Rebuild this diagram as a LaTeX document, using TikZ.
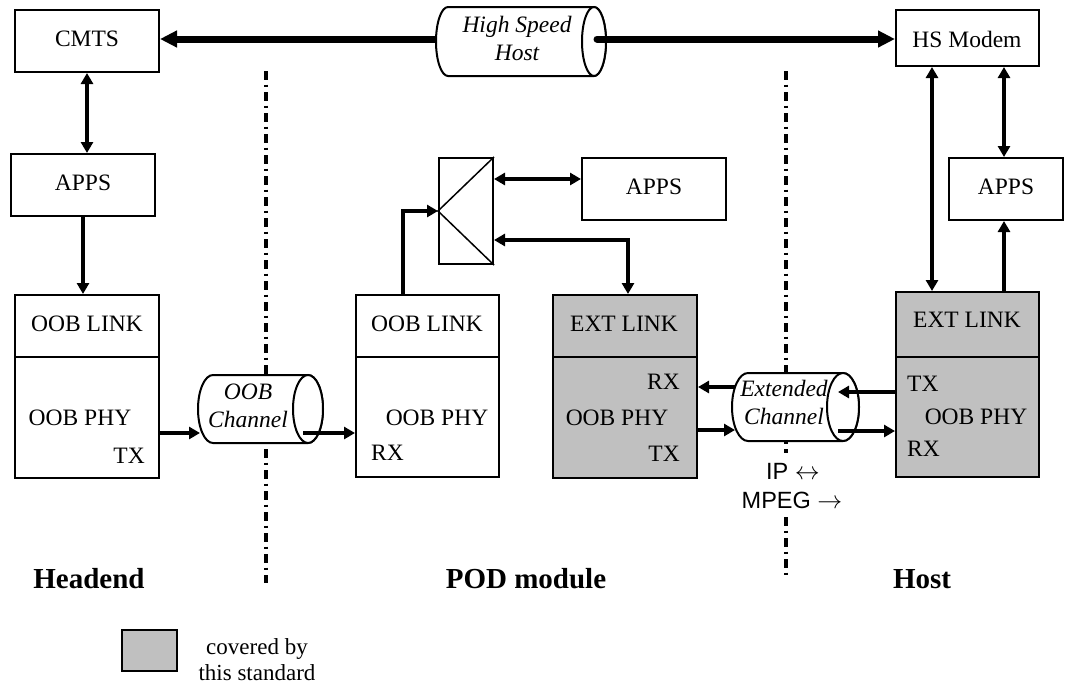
\documentclass[tikz,border=0pt]{standalone}
\usepackage{fontspec}
\setmainfont{Liberation Serif}
\setsansfont{Liberation Sans}
\usetikzlibrary{arrows.meta}
\definecolor{stdgray}{HTML}{C0C0C0}
\newcommand\regfont{\fontsize{23.5}{26}\selectfont}
\newcommand\bigbold{\fontsize{29}{32}\selectfont\bfseries}
\newcommand\mycyl[5]{%
  \draw[cyl] (#1,{#3-#5}) -- (#2,{#3-#5}) arc (270:450:#4 and #5) -- (#1,{#3+#5}) arc (90:270:#4 and #5) -- cycle;
  \draw[cyl] (#2,#3) ellipse (#4 and #5);}
\begin{document}
\begin{tikzpicture}[x=1pt,y=-1pt,
  box/.style={draw, line width=2pt, inner sep=0pt, fill=white},
  gbox/.style={box, fill=stdgray},
  txt/.style={inner sep=0pt, anchor=base, font=\regfont},
  itx/.style={txt, font=\regfont\itshape},
  arr/.style={line width=3.5pt, -{Triangle[length=11pt,width=12pt]}},
  darr/.style={line width=3.5pt, {Triangle[length=11pt,width=12pt]}-{Triangle[length=11pt,width=12pt]}},
  thk/.style={line width=7pt, -{Triangle[length=17pt,width=16pt]}},
  divider/.style={line width=3.3pt, dash pattern=on 8.5pt off 5pt on 2.5pt off 5pt},
  cyl/.style={line width=2pt, fill=white}]
\useasboundingbox (0,0) rectangle (1066,689);

% dividers
\draw[divider] (266,71) -- (266,583);
\draw[divider] (786,71) -- (786,453);
\draw[divider] (786,517) -- (786,578);

% boxes
\node[box, minimum width=144pt, minimum height=62pt] (cmts) at (87,41) {};
\node[box, minimum width=144pt, minimum height=62pt] (apps1) at (83,185) {};
\node[box, minimum width=143pt, minimum height=56pt] (hsm) at (967.5,38) {};
\node[box, minimum width=144pt, minimum height=62pt] (apps2) at (654,189) {};
\node[box, minimum width=114pt, minimum height=62pt] (apps3) at (1006,189) {};
\node[box, minimum width=54pt, minimum height=106pt] (spl) at (466,211) {};
\draw[line width=1.5pt] (spl.north east) -- (spl.west) -- (spl.south east);
\node[box, minimum width=144pt, minimum height=183pt] (oobL) at (87,386.5) {};
\node[box, minimum width=143pt, minimum height=182pt] (oobP) at (427.5,386) {};
\node[gbox, minimum width=144pt, minimum height=183pt] (extP) at (625,386.5) {};
\node[gbox, minimum width=143pt, minimum height=185pt] (extH) at (967.5,384.5) {};
\draw[line width=2pt] (oobL.west |- 0,357) -- (oobL.east |- 0,357);
\draw[line width=2pt] (oobP.west |- 0,357) -- (oobP.east |- 0,357);
\draw[line width=2pt] (extP.west |- 0,357) -- (extP.east |- 0,357);
\draw[line width=2pt] (extH.west |- 0,357) -- (extH.east |- 0,357);
\node[gbox, minimum width=55pt, minimum height=41pt] (leg) at (149.5,650.5) {};

% cylinders
\mycyl{448}{594}{41.5}{12}{34.5}
\mycyl{213}{308}{409}{15}{34}
\mycyl{748}{843}{407}{16}{34}
\coordinate (hsl) at (437,39);
\coordinate (hsr) at (597,39);
\coordinate (oobcl) at (200,433);
\coordinate (oobcr) at (303,433);
\coordinate (extcl1) at (735,387);
\coordinate (extcl2) at (735,430);
\coordinate (extcr1) at (838,392);
\coordinate (extcr2) at (838,431);

% connectors
\draw[thk] (hsl) -- (cmts.east |- hsl);
\draw[thk, line cap=round] (hsr) -- (hsm.west |- hsr);
\draw[darr] (cmts.south) -- (cmts.south |- apps1.north);
\draw[arr] (apps1.south) -- (apps1.south |- oobL.north);
\draw[arr] ([xshift=-24.5pt]oobP.north) |- (spl.west);
\draw[darr] (spl.east |- 0,179) -- (apps2.west |- 0,179);
\draw[darr] (spl.east |- 0,240) -| (extP.north -| 628,0);
\draw[darr] (hsm.south -| 932,0) -- (extH.north -| 932,0);
\draw[darr] (hsm.south -| 1004,0) -- (apps3.north -| 1004,0);
\draw[arr] (extH.north -| 1004,0) -- (apps3.south -| 1004,0);
\draw[arr] (oobL.east |- oobcl) -- (oobcl);
\draw[arr] (oobcr) -- (oobP.west |- oobcr);
\draw[arr] (extcl1) -- (extP.east |- extcl1);
\draw[arr] (extP.east |- extcl2) -- (extcl2);
\draw[arr] (extH.west |- extcr1) -- (extcr1);
\draw[arr] (extcr2) -- (extH.west |- extcr2);

% texts
\node[txt] (tcmts) at (87,46) {CMTS};
\node[itx] (ths1) at (517,32) {High Speed};
\node[itx] (ths2) at (517,60) {Host};
\node[txt] (thsm) at (967,47) {HS Modem};
\node[txt] (tap1) at (83,190) {APPS};
\node[txt] (tap2) at (654,194) {APPS};
\node[txt] (tap3) at (1006,194) {APPS};
\node[txt] (t1) at (87,331) {OOB LINK};
\node[txt] (t2) at (80,425) {OOB PHY};
\node[txt, anchor=base east] (t3) at (145,463) {TX};
\node[itx] (t4) at (248,399) {OOB};
\node[itx] (t5) at (248,427) {Channel};
\node[txt] (t6) at (427,331) {OOB LINK};
\node[txt] (t7) at (437,425) {OOB PHY};
\node[txt, anchor=base west] (t8) at (371,460) {RX};
\node[txt] (t9) at (624,331) {EXT LINK};
\node[txt, anchor=base east] (t10) at (680,389) {RX};
\node[txt] (t11) at (617,425) {OOB PHY};
\node[txt, anchor=base east] (t12) at (680,461) {TX};
\node[itx] (t13) at (784,396) {Extended};
\node[itx] (t14) at (784,424) {Channel};
\node[txt, font=\regfont\sffamily] (t15) at (793,479) {IP $\leftrightarrow$};
\node[txt, font=\regfont\sffamily] (t16) at (792,508) {MPEG $\rightarrow$};
\node[txt] (t17) at (967,327) {EXT LINK};
\node[txt, anchor=base west] (t18) at (907,391) {TX};
\node[txt] (t19) at (976,424) {OOB PHY};
\node[txt, anchor=base west] (t20) at (907,456) {RX};
\node[txt, font=\bigbold] (t21) at (89,588) {Headend};
\node[txt, font=\bigbold] (t22) at (526,588) {POD module};
\node[txt, font=\bigbold] (t23) at (922,588) {Host};
\node[txt, font=\fontsize{23}{26}\selectfont] (t24) at (257,654) {covered by};
\node[txt, font=\fontsize{23}{26}\selectfont] (t25) at (257,680) {this standard};
\end{tikzpicture}
\end{document}
